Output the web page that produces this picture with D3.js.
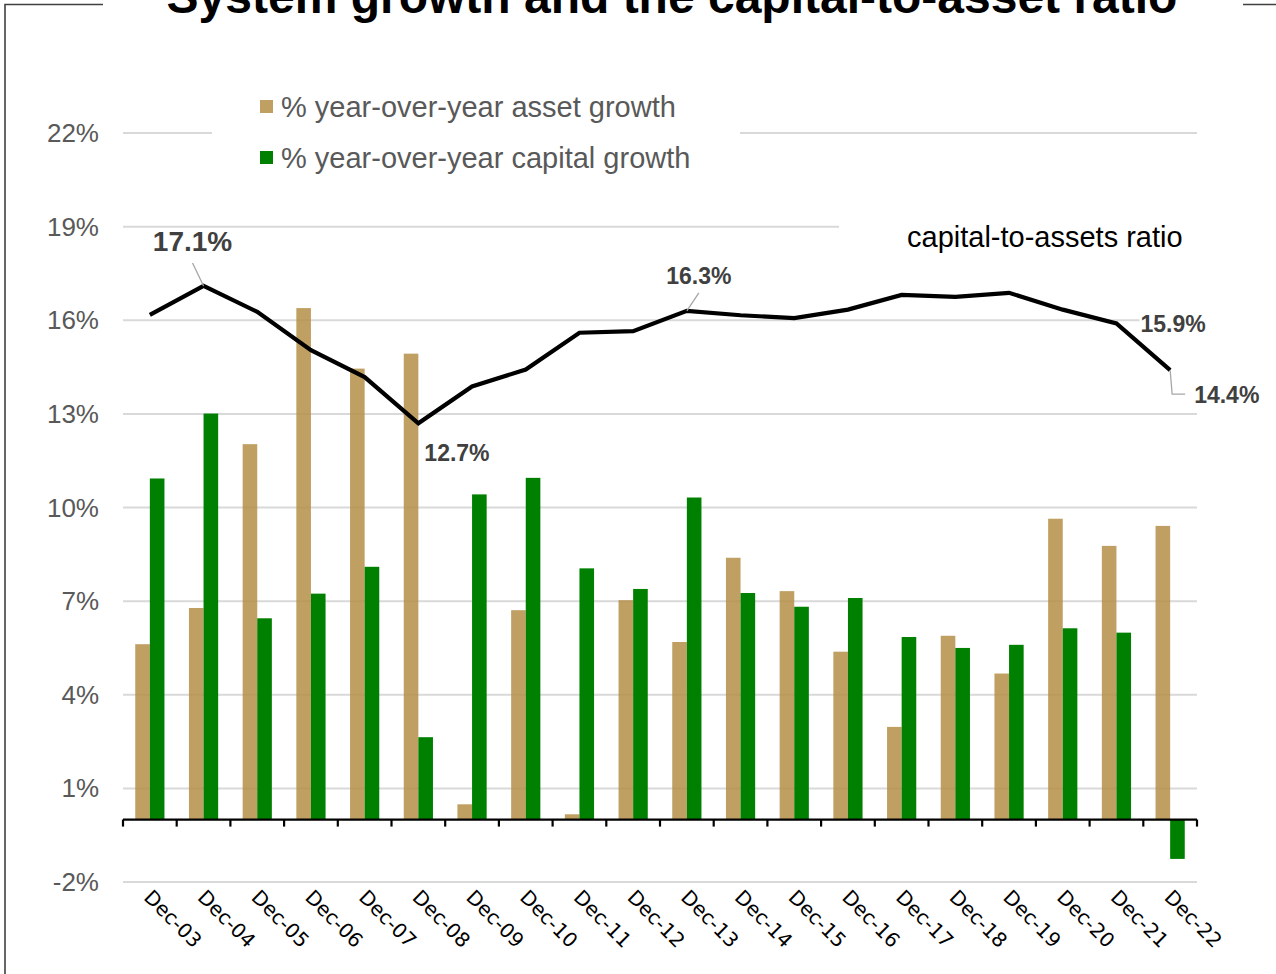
<!DOCTYPE html>
<html>
<head>
<meta charset="utf-8">
<script src="https://cdn.jsdelivr.net/npm/d3@7"></script>
<style>
  html, body { margin: 0; padding: 0; background: #fff; }
  svg { display: block; }
</style>
</head>
<body>
<svg id="chart" width="1276" height="974"></svg>
<script>
const categories = ["Dec-03","Dec-04","Dec-05","Dec-06","Dec-07","Dec-08","Dec-09","Dec-10","Dec-11","Dec-12",
                    "Dec-13","Dec-14","Dec-15","Dec-16","Dec-17","Dec-18","Dec-19","Dec-20","Dec-21","Dec-22"];
const assetGrowth   = [5.62, 6.78, 12.03, 16.39, 14.45, 14.93, 0.49, 6.71, 0.17, 7.03,
                       5.69, 8.39, 7.32, 5.38, 2.97, 5.89, 4.68, 9.64, 8.77, 9.41];
const capitalGrowth = [10.93, 13.01, 6.45, 7.24, 8.10, 2.64, 10.42, 10.95, 8.05, 7.39,
                       10.32, 7.26, 6.82, 7.10, 5.85, 5.50, 5.60, 6.13, 5.99, -1.26];
const capitalRatio  = [16.17, 17.1, 16.27, 15.04, 14.18, 12.7, 13.88, 14.42, 15.6, 15.65,
                       16.3, 16.16, 16.07, 16.34, 16.81, 16.75, 16.88, 16.34, 15.9, 14.4];
const yTicks = [-2, 1, 4, 7, 10, 13, 16, 19, 22];
const seriesNames = ["% year-over-year asset growth", "% year-over-year capital growth"];
const lineName = "capital-to-assets ratio";
const title = "System growth and the capital-to-asset ratio";

const FONT = "'Liberation Sans', Arial, sans-serif";
const TAN = "rgb(181,143,70)";
const GREEN = "#008000";

const svg = d3.select("#chart");

const x = d3.scaleBand().domain(categories).range([123, 1197]).paddingInner(0).paddingOuter(0);
const y = d3.scaleLinear().domain([-2, 22]).range([882, 133]);
const bw = x.bandwidth() * 0.272;

// frame
svg.append("path").attr("d", "M5,974 V4.5 H103").attr("fill", "none").attr("stroke", "#404040").attr("stroke-width", 1.6);
svg.append("path").attr("d", "M1243,4.5 H1276").attr("fill", "none").attr("stroke", "#404040").attr("stroke-width", 1.6);

// title
svg.append("text").attr("x", 672).attr("y", 13).attr("text-anchor", "middle")
  .attr("font-family", FONT).attr("font-weight", "bold").attr("font-size", 48).attr("fill", "#000")
  .text(title);

// gridlines
svg.append("g").selectAll("line").data(yTicks).join("line")
  .attr("x1", 123).attr("x2", 1197).attr("y1", d => y(d)).attr("y2", d => y(d))
  .attr("stroke", "#d9d9d9").attr("stroke-width", 2);

// y tick labels
svg.append("g").selectAll("text").data(yTicks).join("text")
  .attr("x", 99).attr("y", d => y(d)).attr("dy", "0.35em").attr("text-anchor", "end")
  .attr("font-family", FONT).attr("font-size", 26).attr("fill", "#595959")
  .text(d => d + "%");

// white backgrounds (legend box and line label box)
svg.append("rect").attr("x", 212).attr("y", 80).attr("width", 528).attr("height", 102).attr("fill", "#fff");
svg.append("rect").attr("x", 839).attr("y", 205).attr("width", 370).attr("height", 60).attr("fill", "#fff");

// bars
const bars = svg.append("g");
bars.selectAll("rect.asset").data(categories).join("rect").attr("class", "asset")
  .attr("x", (d) => x(d) + x.bandwidth() / 2 - bw)
  .attr("width", bw)
  .attr("y", (d, i) => y(Math.max(0, assetGrowth[i])))
  .attr("height", (d, i) => Math.abs(y(assetGrowth[i]) - y(0)))
  .attr("fill", TAN).attr("fill-opacity", 0.85);
bars.selectAll("rect.capital").data(categories).join("rect").attr("class", "capital")
  .attr("x", (d) => x(d) + x.bandwidth() / 2)
  .attr("width", bw)
  .attr("y", (d, i) => y(Math.max(0, capitalGrowth[i])))
  .attr("height", (d, i) => Math.abs(y(capitalGrowth[i]) - y(0)))
  .attr("fill", GREEN);

// x axis
const xAxis = d3.axisBottom(x).tickSize(0).tickFormat("");
const axG = svg.append("g").attr("transform", `translate(0,${y(0)})`).call(xAxis);
axG.select(".domain").attr("stroke", "#000").attr("stroke-width", 2.2).attr("d", `M123,0H1197`);
const boundaries = d3.range(categories.length + 1).map(i => 123 + i * x.bandwidth());
axG.selectAll("line.bt").data(boundaries).join("line").attr("class", "bt")
  .attr("x1", d => d).attr("x2", d => d).attr("y1", 0).attr("y2", 7)
  .attr("stroke", "#000").attr("stroke-width", 2.2);

// x labels
svg.append("g").selectAll("text").data(categories).join("text")
  .attr("transform", d => `translate(${x(d) + x.bandwidth() / 2 - 7},${y(0) + 79}) rotate(45)`)
  .attr("font-family", "'DejaVu Sans', Verdana, sans-serif").attr("font-size", 20).attr("fill", "#000")
  .text(d => d);

// ratio line
const line = d3.line().x((d, i) => x(categories[i]) + x.bandwidth() / 2).y(d => y(d));
svg.append("path").datum(capitalRatio).attr("d", line)
  .attr("fill", "none").attr("stroke", "#000").attr("stroke-width", 4.2).attr("stroke-linejoin", "miter");

// leader lines
const px = i => x(categories[i]) + x.bandwidth() / 2;
const lead = svg.append("g").attr("stroke", "#a6a6a6").attr("stroke-width", 1.3).attr("fill", "none");
lead.append("path").attr("d", `M${px(1)},${y(capitalRatio[1])} L${px(1) - 11},${y(capitalRatio[1]) - 23}`);
lead.append("path").attr("d", `M${px(10)},${y(capitalRatio[10])} L${px(10) + 12},${y(capitalRatio[10]) - 18}`);
lead.append("path").attr("d", `M${px(19)},${y(capitalRatio[19])} L${px(19) + 2},${y(capitalRatio[19]) + 24} H${px(19) + 15}`);

// data labels
const labels = [
  { i: 1, dx: -11, dy: -35, size: 28, anchor: "middle", bg: false },
  { i: 10, dx: 12, dy: -27, size: 23, anchor: "middle", bg: false },
  { i: 5, dx: 6, dy: 38, size: 23, anchor: "start", bg: false },
  { i: 18, dx: 24, dy: 9, size: 23, anchor: "start", bg: true },
  { i: 19, dx: 24, dy: 33, size: 23, anchor: "start", bg: false }
];
const labelG = svg.append("g");
const labelTexts = labelG.selectAll("text").data(labels).join("text")
  .attr("x", d => px(d.i) + d.dx).attr("y", d => y(capitalRatio[d.i]) + d.dy)
  .attr("text-anchor", d => d.anchor)
  .attr("font-family", FONT).attr("font-weight", "bold").attr("font-size", d => d.size).attr("fill", "#404040")
  .text(d => capitalRatio[d.i].toFixed(1) + "%");
labelTexts.filter(d => d.bg).each(function () {
  const bb = this.getBBox();
  labelG.insert("rect", ":first-child").attr("x", bb.x - 1).attr("y", bb.y + 2)
    .attr("width", bb.width + 2).attr("height", bb.height - 4).attr("fill", "#fff");
});

// legend
const leg = svg.append("g");
[TAN, GREEN].forEach((c, k) => {
  leg.append("rect").attr("x", 260).attr("y", 100 + k * 51).attr("width", 13).attr("height", 13)
    .attr("fill", c).attr("fill-opacity", k === 0 ? 0.85 : 1);
  leg.append("text").attr("x", 281).attr("y", 107 + k * 51).attr("dy", "0.35em")
    .attr("font-family", FONT).attr("font-size", 29).attr("fill", "#595959").text(seriesNames[k]);
});

// line label
svg.append("text").attr("x", 907).attr("y", 237).attr("dy", "0.35em")
  .attr("font-family", FONT).attr("font-size", 29).attr("fill", "#000").text(lineName);
</script>
</body>
</html>
